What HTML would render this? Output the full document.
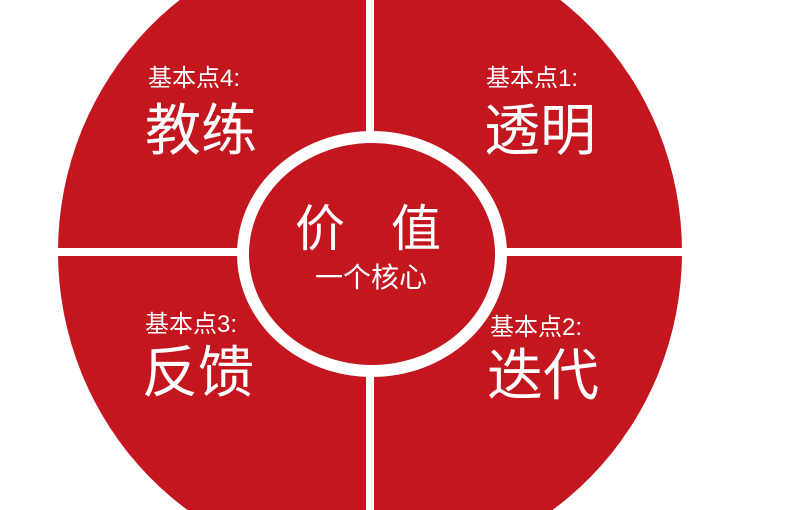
<!DOCTYPE html>
<html><head><meta charset="utf-8"><style>
html,body{margin:0;padding:0;background:#fff;width:799px;height:510px;overflow:hidden}
svg{display:block}
svg text{font-family:"Liberation Sans","Noto Sans CJK SC",sans-serif;fill:#fff}
</style></head><body>
<svg width="799" height="510" viewBox="0 0 799 510">
<ellipse cx="370" cy="252" rx="312" ry="318" fill="#c3161f"/>
<rect x="366" y="-60" width="8" height="620" fill="#fff"/>
<rect x="40" y="248" width="660" height="8" fill="#fff"/>
<ellipse cx="372" cy="254" rx="135" ry="123" fill="#fff"/>
<ellipse cx="372" cy="254" rx="123" ry="111" fill="#c3161f"/>
<text x="320" y="246" font-size="50" text-anchor="middle">价</text>
<text x="416" y="246" font-size="50" text-anchor="middle">值</text>
<text x="371" y="287" font-size="28" text-anchor="middle">一个核心</text>
<text x="148" y="86" font-size="24">基本点4:</text>
<text x="145" y="150" font-size="56">教练</text>
<text x="486" y="86" font-size="24">基本点1:</text>
<text x="484" y="150" font-size="56">透明</text>
<text x="145" y="332" font-size="24">基本点3:</text>
<text x="142" y="392" font-size="56">反馈</text>
<text x="490" y="335" font-size="24">基本点2:</text>
<text x="487" y="395" font-size="56">迭代</text>
</svg>
</body></html>
